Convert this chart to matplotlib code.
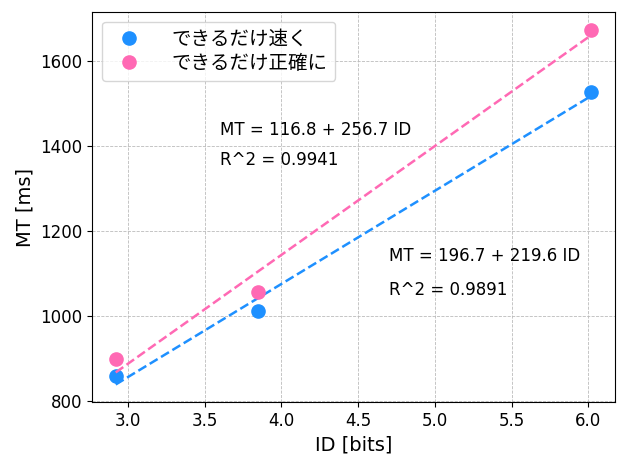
import numpy as np
import matplotlib.pyplot as plt

plt.rcParams['font.family'] = ['DejaVu Sans', 'Noto Sans CJK JP']

# 難易度 ID と平均移動時間 MT
id_bits = [2.92, 3.85, 6.02]
mt_fast = [857, 1012, 1527]
mt_accurate = [899, 1056, 1675]

# 回帰式 MT = a + b ID
fit_fast = (196.7, 219.6, 0.9891)
fit_accurate = (116.8, 256.7, 0.9941)

labels = ['できるだけ速く', 'できるだけ正確に']
colors = ['dodgerblue', 'hotpink']

fig, ax = plt.subplots(figsize=(6.17, 4.55), dpi=100)
fig.subplots_adjust(left=0.149, right=0.997, bottom=0.116, top=0.974)

x = np.array(id_bits)
for mt, fit, label, color in zip([mt_fast, mt_accurate], [fit_fast, fit_accurate], labels, colors):
    ax.plot(x, mt, 'o', color=color, markersize=9.5, label=label)
    a, b, r2 = fit
    ax.plot(x, a + b * x, '--', color=color, linewidth=1.8)

a, b, r2 = fit_accurate
ax.text(3.6, 1438, f'MT = {a} + {b} ID', fontsize=12, va='center')
ax.text(3.6, 1368, f'R^2 = {r2}', fontsize=12, va='center')
a, b, r2 = fit_fast
ax.text(4.7, 1140, f'MT = {a} + {b} ID', fontsize=12, va='center')
ax.text(4.7, 1060, f'R^2 = {r2}', fontsize=12, va='center')

ax.set_xlabel('ID [bits]', fontsize=14)
ax.set_ylabel('MT [ms]', fontsize=14)
ax.tick_params(labelsize=12)
ax.set_yticks([800, 1000, 1200, 1400, 1600])
ax.grid(True, linestyle='--', linewidth=0.6, color='#bbbbbb')
ax.legend(loc='upper left', fontsize=14, handletextpad=1.2, borderpad=0.4, labelspacing=0.3)

fig.savefig('out.png', dpi=100)
